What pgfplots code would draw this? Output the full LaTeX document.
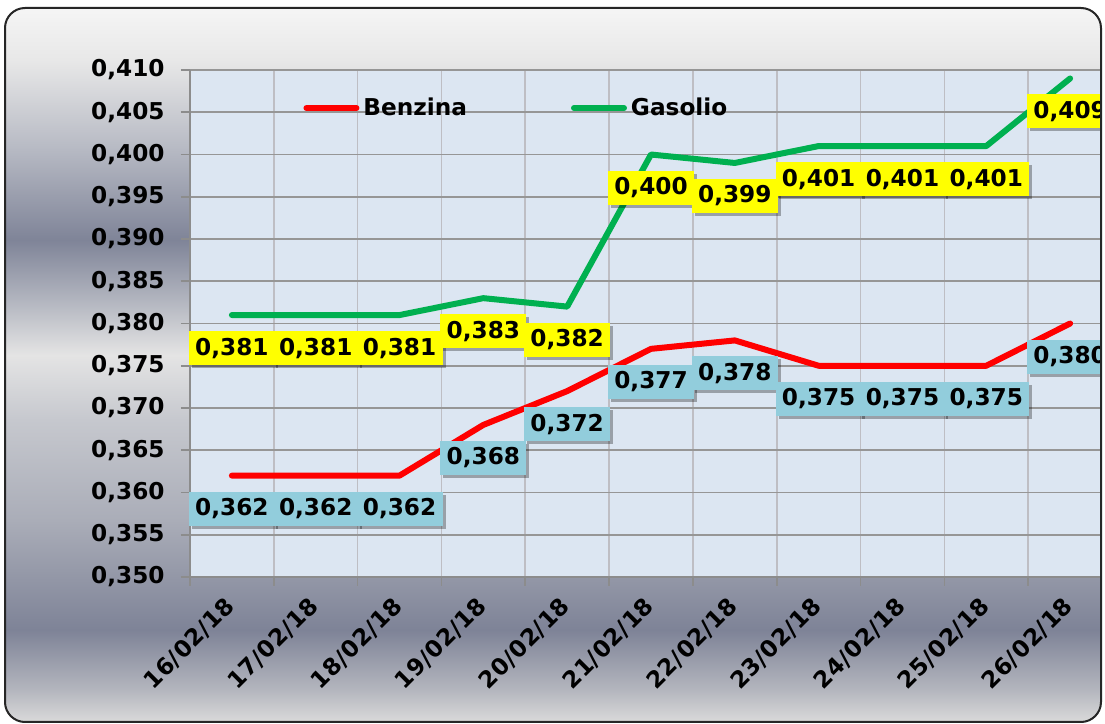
\documentclass[border=0pt]{standalone}
\usepackage{fontspec}
\setmainfont{DejaVu Sans}
\newfontfamily\widefont{DejaVu Sans}[LetterSpace=2]
\usepackage{pgfplots}
\usepackage{pgfplotstable}
\pgfplotsset{compat=1.18}
\usetikzlibrary{shadows}

\definecolor{benz}{HTML}{FF0000}
\definecolor{gaso}{HTML}{00B050}
\definecolor{plotbg}{HTML}{DCE6F2}
\definecolor{lblblue}{HTML}{92CDDC}
\definecolor{lblyel}{HTML}{FFFF00}
\definecolor{gridh}{HTML}{969696}
\definecolor{gridv}{HTML}{BEBEC4}
% background bands, bottom to top
\definecolor{bgA}{HTML}{DADADA}
\definecolor{bgB}{HTML}{B4B6BE}
\definecolor{bgC}{HTML}{7E8397}
\definecolor{bgD}{HTML}{AAADB8}
\definecolor{bgE}{HTML}{C6C8CE}
\definecolor{bgF}{HTML}{E4E4E4}
\definecolor{bgG}{HTML}{B2B5BF}
\definecolor{bgH}{HTML}{7F8498}
\definecolor{bgI}{HTML}{B6B9C3}
\definecolor{bgJ}{HTML}{E8E8E8}
\definecolor{bgK}{HTML}{F5F5F5}
\pgfdeclareverticalshading{chartbg}{100bp}{color(0bp)=(bgA); color(25bp)=(bgA);
  color(27.24bp)=(bgB); color(31.44bp)=(bgC); color(39.15bp)=(bgD);
  color(46.15bp)=(bgE); color(50.7bp)=(bgF); color(54.55bp)=(bgG);
  color(58.75bp)=(bgH); color(65.06bp)=(bgI); color(71.36bp)=(bgJ);
  color(75bp)=(bgK); color(100bp)=(bgK)}

\pgfplotstableread{
x benz gaso
0 0.362 0.381
1 0.362 0.381
2 0.362 0.381
3 0.368 0.383
4 0.372 0.382
5 0.377 0.400
6 0.378 0.399
7 0.375 0.401
8 0.375 0.401
9 0.375 0.401
10 0.380 0.409
}\prices

\newcommand{\lblfont}{\bfseries\fontsize{11.6}{14}\selectfont}

\begin{document}
\begin{tikzpicture}
% 1 px of the reference = 0.5pt
\useasboundingbox (0pt,0pt) rectangle (552.5pt,362pt);
\begin{scope}
\clip (0pt,0pt) rectangle (552.5pt,362pt);
\shade[shading=chartbg, rounded corners=10pt] (2.5pt,1pt) rectangle (550.5pt,358pt);
\begin{scope}
\clip[rounded corners=10pt] (2.5pt,1pt) rectangle (550.5pt,358pt);
\begin{axis}[
    at={(95pt,73.5pt)}, anchor=south west,
    scale only axis,
    width=461pt, height=253.5pt,
    xmin=-0.5, xmax=10.5,
    ymin=0.35, ymax=0.41,
    axis background/.style={fill=plotbg},
    axis x line*=bottom, axis y line*=left,
    axis line style={draw=gray!90, line width=0.8pt},
    tick align=outside,
    major tick length=4.5pt,
    tick style={draw=gray!90, line width=0.8pt},
    xtick={-0.5,0.5,...,10.5},
    xticklabels={},
    xmajorgrids, ymajorgrids,
    x grid style={gridv, line width=0.8pt},
    y grid style={gridh, line width=0.8pt},
    ytick={0.35,0.355,0.36,0.365,0.37,0.375,0.38,0.385,0.39,0.395,0.4,0.405,0.41},
    scaled y ticks=false,
    /pgf/number format/.cd, fixed, fixed zerofill, precision=3, use comma, assume math mode=true,
    /pgfplots/.cd,
    yticklabel style={font=\lblfont, inner sep=0pt, xshift=-8pt},
    extra x ticks={0,1,2,3,4,5,6,7,8,9,10},
    extra x tick labels={16/02/18,17/02/18,18/02/18,19/02/18,20/02/18,21/02/18,22/02/18,23/02/18,24/02/18,25/02/18,26/02/18},
    extra x tick style={major tick length=0pt, grid=none,
        xticklabel style={font=\widefont\lblfont, inner sep=0pt, xshift=-4pt, yshift=-9pt, rotate=45, anchor=north east}},
    legend columns=2,
    legend style={draw=none, fill=none, font=\lblfont, inner sep=0pt,
        at={(0.1226,0.925)}, anchor=west,
        /tikz/every even column/.append style={column sep=50pt}},
    legend image code/.code={\draw[#1, line cap=round] (0pt,0pt) -- (25pt,0pt);},
    every node near coord/.append style={anchor=north, yshift=-6.5pt, inner sep=0pt,
        minimum width=43pt, minimum height=17pt, font=\lblfont, text=black,
        drop shadow={shadow xshift=1.5pt, shadow yshift=-1.5pt, fill=black, draw=none, opacity=0.3}},
]
\addplot[benz, line width=3pt, line join=round, line cap=round,
    nodes near coords, point meta=y,
    every node near coord/.append style={fill=lblblue}] table[x=x, y=benz] {\prices};
\addlegendentry{Benzina}
\addplot[gaso, line width=3pt, line join=round, line cap=round,
    nodes near coords, point meta=y,
    every node near coord/.append style={fill=lblyel}] table[x=x, y=gaso] {\prices};
\addlegendentry{Gasolio}
\end{axis}
\end{scope}
\draw[line width=1pt, draw=black!85, rounded corners=10pt] (2.5pt,1pt) rectangle (550.5pt,358pt);
\end{scope}
\end{tikzpicture}
\end{document}
